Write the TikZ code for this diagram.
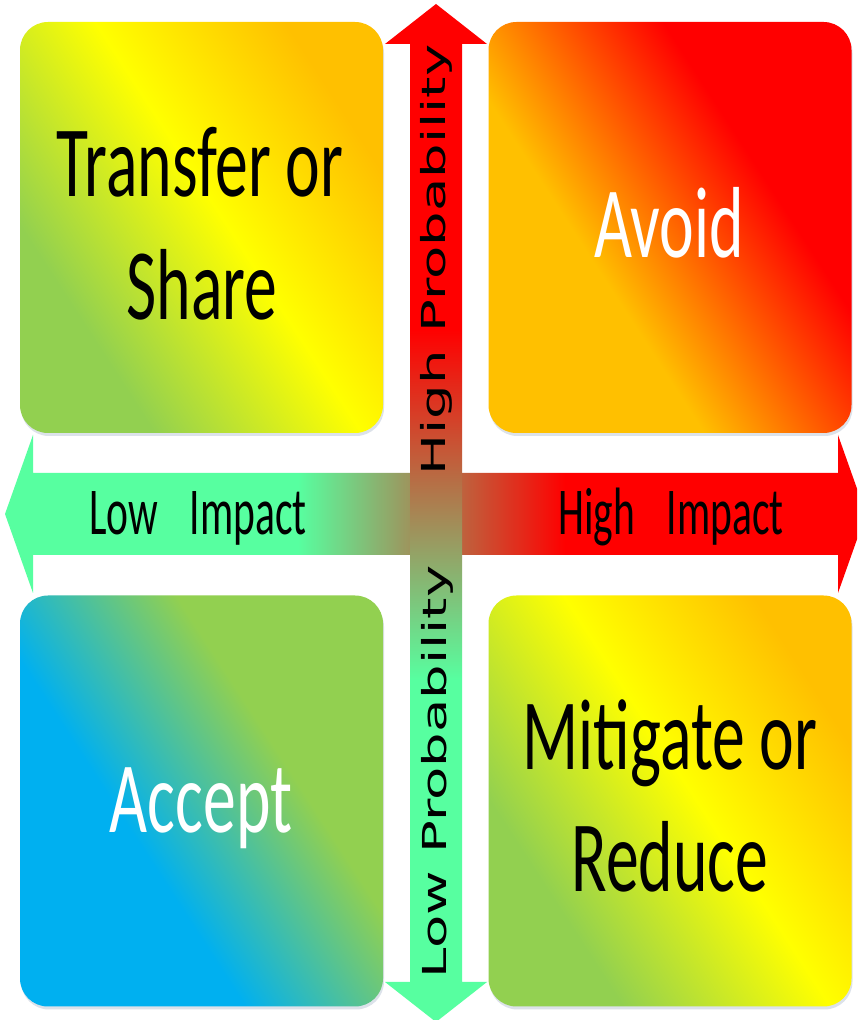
\documentclass[tikz,border=0pt]{standalone}
\usepackage{fontspec}
\usetikzlibrary{shadows}
\newfontfamily\boxfont[FakeStretch=0.65]{Carlito}
\newfontfamily\labfont[FakeStretch=0.62]{Carlito}
\newfontfamily\vfont[FakeStretch=1.65]{DejaVu Sans}
\definecolor{cgreen}{HTML}{92D050}
\definecolor{cyellow}{HTML}{FFFF00}
\definecolor{corange}{HTML}{FFC000}
\definecolor{cred}{HTML}{FF0000}
\definecolor{cblue}{HTML}{00B0F0}
\definecolor{agreen}{HTML}{57FFA0}
\definecolor{shadowc}{HTML}{DCE2EA}
\pgfdeclarehorizontalshading{tlshade}{100bp}{color(0bp)=(cgreen); color(30bp)=(cgreen); color(53bp)=(cyellow); color(74bp)=(corange); color(100bp)=(corange)}
\pgfdeclarehorizontalshading{trshade}{100bp}{color(0bp)=(corange); color(39bp)=(corange); color(64bp)=(cred); color(100bp)=(cred)}
\pgfdeclarehorizontalshading{blshade}{100bp}{color(0bp)=(cblue); color(40bp)=(cblue); color(62bp)=(cgreen); color(100bp)=(cgreen)}
\pgfdeclarehorizontalshading{hshade}{100bp}{color(0bp)=(agreen); color(42bp)=(agreen); color(57.5bp)=(cred); color(100bp)=(cred)}
\pgfdeclareverticalshading{vshade}{100bp}{color(0bp)=(agreen); color(41.8bp)=(agreen); color(59bp)=(cred); color(100bp)=(cred)}
\tikzset{
  quad/.style={rounded corners=28pt, minimum width=363pt, minimum height=411pt,
    inner sep=0pt, shading angle=33,
    drop shadow={shadow xshift=1pt, shadow yshift=-3pt, fill=shadowc, opacity=1}},
  boxtxt/.style={font=\boxfont\fontsize{101}{121}\selectfont, inner sep=0pt, anchor=base},
  lab/.style={font=\labfont\fontsize{67}{80}\selectfont, inner sep=0pt, anchor=base},
  vlab/.style={font=\vfont\fontsize{33}{40}\selectfont, inner sep=0pt, anchor=base, rotate=90}
}
\begin{document}
\begin{tikzpicture}[x=1pt,y=1pt]
\useasboundingbox (0,0) rectangle (857,1020);
\clip (0,0) rectangle (857,1020);
\fill[white] (0,0) rectangle (857,1020);
% horizontal arrow
\shade[shading=hshade]
  (5,506) -- (33,585) -- (33,547) -- (838,547) -- (838,585) -- (866,506)
  -- (838,427) -- (838,465) -- (33,465) -- (33,427) -- cycle;
% vertical arrow
\shade[shading=vshade]
  (436,1016) -- (487,976) -- (462,976) -- (462,38) -- (487,38) -- (436,-2)
  -- (385,38) -- (410,38) -- (410,976) -- (385,976) -- cycle;
% quadrants
\node[quad, shading=tlshade] (tl) at (201.5,792.5) {};
\node[quad, shading=trshade] (tr) at (670,792.5) {};
\node[quad, shading=blshade] (bl) at (201.5,219) {};
\node[quad, shading=tlshade] (br) at (670,219) {};
% texts
\node[boxtxt] (t1) at (200,823) {Transfer or};
\node[boxtxt] (t2) at (202,700) {Share};
\node[boxtxt, text=white] (av) at (669,762) {Avoid};
\node[boxtxt, text=white] (ac) at (201,187) {Accept};
\node[boxtxt] (m1) at (670,250) {Mitigate or};
\node[boxtxt] (m2) at (670,128) {Reduce};
\node[lab] (li) at (198,485) {Low\hspace{32pt}Impact};
\node[lab] (hi) at (671,485) {High\hspace{32pt}Impact};
\node[vlab] (hp) at (445,760) {High Probability};
\node[vlab] (lp) at (446,248) {Low Probability};
\end{tikzpicture}
\end{document}
